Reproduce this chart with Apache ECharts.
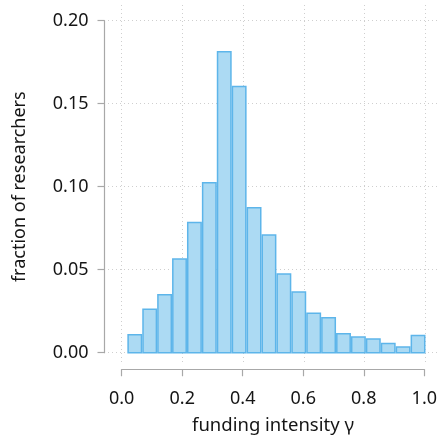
<!DOCTYPE html>
<html>
<head>
<meta charset="utf-8">
<script src="https://cdn.jsdelivr.net/npm/echarts@6/dist/echarts.min.js"></script>
<style>html,body{margin:0;padding:0;background:#fff}#c{width:440px;height:436px}</style>
</head>
<body>
<div id="c"></div>
<script>
// Histogram bin edges (funding intensity γ)
const binEdges = [0.0186, 0.0677, 0.1168, 0.1659, 0.2150, 0.2641, 0.3132, 0.3623, 0.4114, 0.4605,
  0.5096, 0.5587, 0.6078, 0.6569, 0.7060, 0.7551, 0.8042, 0.8533, 0.9024, 0.9515, 1.0006];
// Fraction of researchers in each bin
const fractions = [0.0113, 0.0267, 0.0354, 0.0569, 0.0789, 0.1028, 0.1817, 0.1608, 0.0878, 0.0713,
  0.0478, 0.0370, 0.0243, 0.0215, 0.0119, 0.0099, 0.0087, 0.0060, 0.0039, 0.0108];
const xTicks = [0, 0.2, 0.4, 0.6, 0.8, 1.0];
const yTicks = [0, 0.05, 0.10, 0.15, 0.20];

const histData = fractions.map((v, i) => [binEdges[i], binEdges[i + 1], v]);

const FONT = 'Noto Sans';
const TXT = '#151515';
const chart = echarts.init(document.getElementById('c'), null, {renderer: 'canvas'});
const gridLine = {show: true, lineStyle: {color: '#cfcfcf', width: 1, type: [1, 3]}};

chart.setOption({
  animation: false,
  grid: [
    {left: 108, top: 5, width: 332, height: 360},
    {left: 121.7, top: 369, width: 303.6, height: 1},
    {left: 104.5, top: 20.7, width: 1, height: 332}
  ],
  xAxis: [
    {gridIndex: 0, type: 'value', min: -0.0451, max: 1.0484,
      axisLine: {show: false}, axisTick: {show: false, customValues: xTicks},
      axisLabel: {show: false, customValues: xTicks}, splitLine: gridLine},
    {gridIndex: 1, type: 'value', min: 0, max: 1, interval: 0.2, position: 'bottom',
      axisLine: {show: true, lineStyle: {color: '#a8a8a8', width: 1.2}},
      axisTick: {show: true, length: 7, inside: false, lineStyle: {color: '#a8a8a8', width: 1.2}},
      axisLabel: {show: true, margin: 21, color: TXT, fontFamily: FONT, fontSize: 18,
        formatter: v => v.toFixed(1)},
      splitLine: {show: false},
      name: 'funding intensity γ', nameLocation: 'middle', nameGap: 47,
      nameTextStyle: {color: TXT, fontFamily: FONT, fontSize: 18.5}},
    {gridIndex: 2, type: 'value', min: 0, max: 1, show: false}
  ],
  yAxis: [
    {gridIndex: 0, type: 'value', min: -0.0074, max: 0.20946,
      axisLine: {show: false}, axisTick: {show: false, customValues: yTicks},
      axisLabel: {show: false, customValues: yTicks}, splitLine: gridLine},
    {gridIndex: 1, type: 'value', min: 0, max: 1, show: false},
    {gridIndex: 2, type: 'value', min: 0, max: 0.2, interval: 0.05, position: 'left',
      axisLine: {show: true, lineStyle: {color: '#a8a8a8', width: 1.2}},
      axisTick: {show: true, length: 7, inside: false, lineStyle: {color: '#a8a8a8', width: 1.2}},
      axisLabel: {show: true, margin: 16, color: TXT, fontFamily: FONT, fontSize: 18,
        formatter: v => v.toFixed(2)},
      splitLine: {show: false},
      name: 'fraction of researchers', nameLocation: 'middle', nameGap: 76, nameRotate: 90,
      nameTextStyle: {color: TXT, fontFamily: FONT, fontSize: 18}}
  ],
  series: [{
    type: 'custom',
    xAxisIndex: 0, yAxisIndex: 0,
    data: histData,
    encode: {x: [0, 1], y: 2},
    renderItem: function (params, api) {
      const p0 = api.coord([api.value(0), api.value(2)]);
      const p1 = api.coord([api.value(1), 0]);
      const lw = 1.5, inset = lw / 2;
      return {
        type: 'rect',
        shape: {x: p0[0] + inset, y: p0[1] + inset, width: p1[0] - p0[0] - 2 * inset, height: p1[1] - p0[1] - inset},
        style: {fill: '#acdaf3', stroke: '#5db5ea', lineWidth: lw}
      };
    }
  }]
});
</script>
</body>
</html>
